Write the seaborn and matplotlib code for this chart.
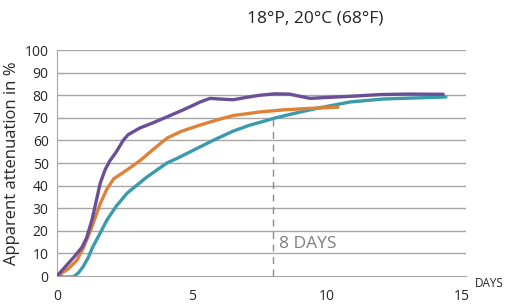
import matplotlib
matplotlib.use("Agg")
import matplotlib.pyplot as plt
import seaborn as sns
import pandas as pd

# === Values ===
purple_days = [0, 0.3, 0.63, 0.93, 1.1, 1.3, 1.45, 1.6, 1.78, 1.96, 2.2, 2.45, 2.63, 2.85, 3.07, 3.6, 4.07, 4.67, 5.0, 5.3, 5.67, 6.04, 6.52, 7.0, 7.52, 8.07, 8.6, 9.0, 9.37, 10.0, 11.0, 12.0, 13.0, 14.3]
purple_vals = [0, 4, 8.4, 12.8, 17, 25, 33, 41, 47, 51, 55, 60, 62.5, 64, 65.5, 68, 70.4, 73.5, 75.3, 77, 78.6, 78.3, 78, 79, 80, 80.6, 80.5, 79.5, 78.6, 79, 79.6, 80.3, 80.5, 80.4]

orange_days = [0, 0.4, 0.74, 1.0, 1.3, 1.6, 1.85, 2.1, 2.6, 3.07, 3.56, 4.07, 4.6, 5.3, 6.0, 6.52, 7.15, 7.52, 8.37, 9.4, 10.4]
orange_vals = [0, 3, 7, 13, 22, 32, 38.5, 43, 47, 51, 56, 61, 64, 66.8, 69.3, 71, 72, 72.6, 73.5, 74.2, 74.7]

teal_days = [0, 0.3, 0.63, 0.8, 0.96, 1.15, 1.33, 1.6, 1.85, 2.2, 2.6, 3.33, 4.07, 4.44, 5.19, 5.78, 6.5, 7.15, 7.52, 8.07, 8.8, 9.63, 10.85, 12.07, 13.3, 14.4]
teal_vals = [0, -0.5, -0.3, 1.5, 4, 8, 13, 19, 24.8, 31, 36.7, 43.8, 50, 52, 56.5, 60, 64, 66.8, 68, 69.9, 72, 74.2, 77, 78.3, 78.8, 79.2]

x_ticks = [0, 5, 10, 15]
y_ticks = [0, 10, 20, 30, 40, 50, 60, 70, 80, 90, 100]
marker_day = 8

purple_df = pd.DataFrame({"day": purple_days, "att": purple_vals})
orange_df = pd.DataFrame({"day": orange_days, "att": orange_vals})
teal_df = pd.DataFrame({"day": teal_days, "att": teal_vals})

sns.set_style("white")
plt.rcParams["font.family"] = ["Open Sans", "DejaVu Sans"]

fig = plt.figure(figsize=(5.07, 3.06), dpi=100)
ax = fig.add_axes([0.1124, 0.098, 0.807, 0.7386])

grid_c = "#a6a6a6"
for v in y_ticks[1:]:
    ax.axhline(v, color=grid_c, lw=1.0, zorder=0)

sns.lineplot(data=teal_df, x="day", y="att", color="#3a9bab", lw=2.4, ax=ax, zorder=3)
sns.lineplot(data=orange_df, x="day", y="att", color="#e0813a", lw=2.4, ax=ax, zorder=4)
sns.lineplot(data=purple_df, x="day", y="att", color="#6b4f96", lw=2.4, ax=ax, zorder=5)

ax.plot([marker_day, marker_day], [0, 72], color="#8c8c8c", lw=1.0, ls=(0, (5, 4)), zorder=2)
ax.text(marker_day + 0.22, 14, "8 DAYS", color="#7f7f7f", fontsize=12.5, va="center", ha="left")

ax.set_xlim(0, 15.15)
ax.set_ylim(0, 100)
ax.set_xticks(x_ticks)
ax.set_xticks(range(0, 16), minor=True)
ax.set_yticks(y_ticks)
ax.tick_params(axis="x", which="both", direction="out", length=5, color=grid_c, labelsize=10, pad=4)
ax.tick_params(axis="y", length=0, labelsize=10, pad=6)

for s in ["top", "right"]:
    ax.spines[s].set_visible(False)
ax.spines["left"].set_color(grid_c)
ax.spines["bottom"].set_color(grid_c)
ax.spines["bottom"].set_bounds(0, 15.15)

ax.set_xlabel("")
ax.set_ylabel("Apparent attenuation in %", fontsize=12, labelpad=3)
fig.text(0.937, 0.075, "DAYS", fontsize=8.5, ha="left", va="center")
fig.text(0.622, 0.94, "18°P, 20°C (68°F)", fontsize=12.5, ha="center", va="center", color="#222222")

fig.savefig("out.png", dpi=100)
